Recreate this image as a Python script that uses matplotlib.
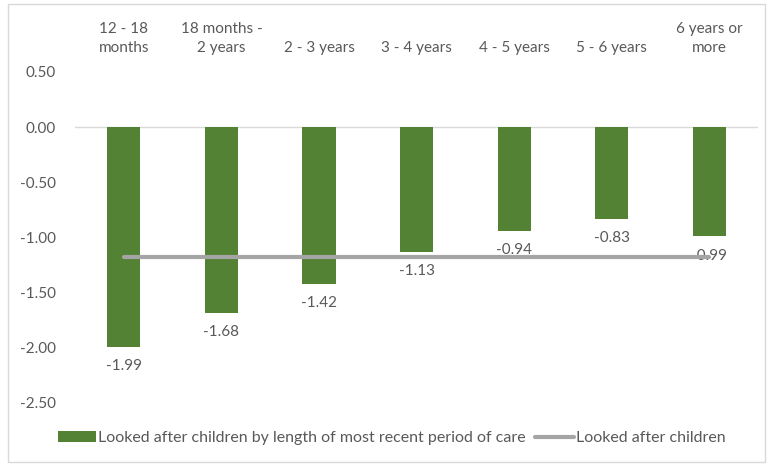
import matplotlib
matplotlib.use('Agg')
import matplotlib.pyplot as plt
from matplotlib.patches import Rectangle
from matplotlib.ticker import FormatStrFormatter

# Data
categories = ['12 - 18\nmonths', '18 months -\n2 years', '2 - 3 years', '3 - 4 years',
              '4 - 5 years', '5 - 6 years', '6 years or\nmore']
care_length_values = [-1.99, -1.68, -1.42, -1.13, -0.94, -0.83, -0.99]
all_looked_after = [-1.18] * len(categories)

bar_label = 'Looked after children by length of most recent period of care'
line_label = 'Looked after children'

plt.rcParams['font.family'] = ['Lato', 'DejaVu Sans']
plt.rcParams['axes.unicode_minus'] = False
text_color = '#595959'

fig = plt.figure(figsize=(7.68, 4.66), dpi=100)
ax = fig.add_axes([0.0977, 0.1352, 0.8893, 0.7103])

x = list(range(len(categories)))
bars = ax.bar(x, care_length_values, width=0.34, color='#548235', label=bar_label, zorder=3)
line, = ax.plot(x, all_looked_after, color='#A5A5A5', linewidth=3, solid_capstyle='round',
                label=line_label, zorder=4)

ax.bar_label(bars, labels=[f'{v:.2f}' for v in care_length_values], padding=9,
             fontsize=11, color=text_color)

ax.set_xlim(-0.5, len(categories) - 0.5)
ax.set_ylim(-2.5, 0.5)
ax.set_yticks([0.5, 0.0, -0.5, -1.0, -1.5, -2.0, -2.5])
ax.yaxis.set_major_formatter(FormatStrFormatter('%.2f'))
ax.axhline(0, color='#D9D9D9', linewidth=1, zorder=2)

ax.xaxis.tick_top()
ax.set_xticks(x)
ax.set_xticklabels(categories, fontsize=11, color=text_color, linespacing=1.45)
ax.tick_params(axis='x', length=0, pad=12)
ax.tick_params(axis='y', length=0, pad=14, labelsize=11, labelcolor=text_color)

for spine in ax.spines.values():
    spine.set_visible(False)

fig.legend(handles=[bars, line], labels=[bar_label, line_label],
           loc='center', bbox_to_anchor=(0.51, 0.06), ncol=2, frameon=False,
           fontsize=11.5, labelcolor=text_color, handlelength=2.4, handletextpad=0.15,
           columnspacing=0.6)

fig.patches.append(Rectangle((0.011, 0.008), 0.985, 0.984, transform=fig.transFigure,
                             fill=False, edgecolor='#D9D9D9', linewidth=1))

plt.savefig('out.png', dpi=100)
